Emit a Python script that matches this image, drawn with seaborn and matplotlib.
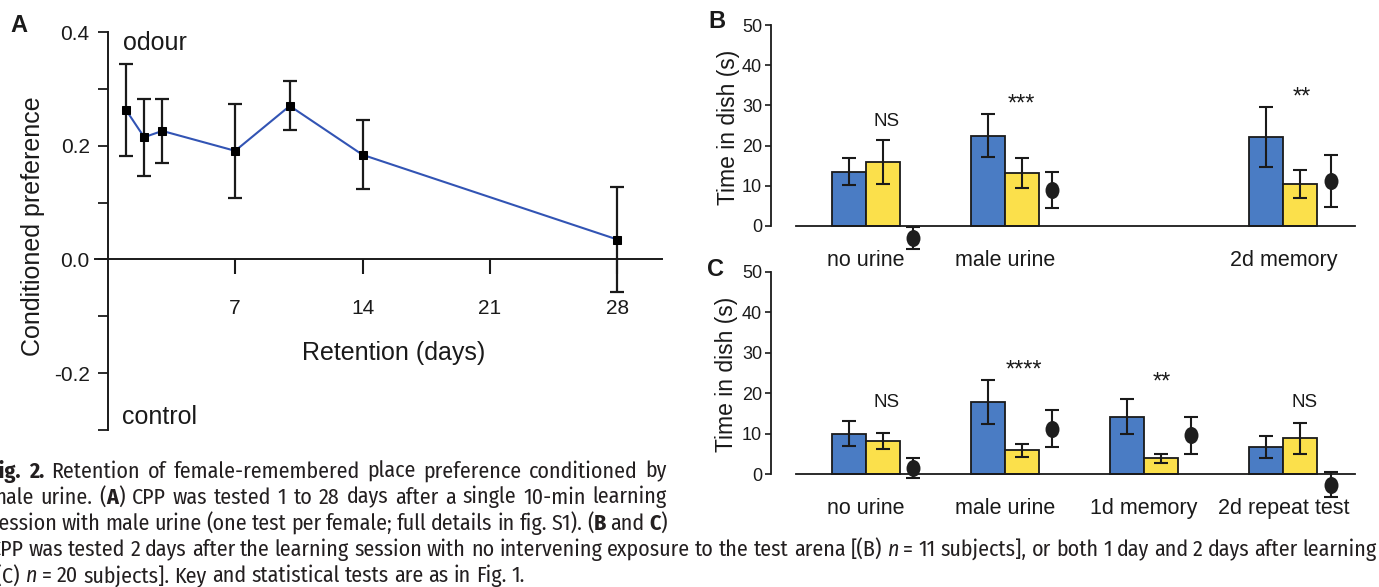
import re
import numpy as np
import pandas as pd
import matplotlib
matplotlib.use("Agg")
import matplotlib.pyplot as plt
import seaborn as sns
from matplotlib import font_manager
from matplotlib.path import Path
from matplotlib.transforms import Affine2D
from matplotlib.markers import MarkerStyle

# ---------------- data ----------------
# Panel A: retention curve
days = [1, 2, 3, 7, 10, 14, 28]
pref = [0.263, 0.215, 0.226, 0.191, 0.270, 0.184, 0.035]
pref_err = [0.081, 0.068, 0.056, 0.083, 0.043, 0.061, 0.093]
a_yticks = [-0.3, -0.2, -0.1, 0.0, 0.1, 0.2, 0.3, 0.4]
a_yticklabels = ["", "-0.2", "", "0.0", "", "0.2", "", "0.4"]
a_xticks = [7, 14, 21, 28]

# Panel B
b_groups = ["no urine", "male urine", "", "2d memory"]
b_blue = [13.5, 22.5, np.nan, 22.1]
b_blue_err = [3.4, 5.35, np.nan, 7.55]
b_yellow = [16.0, 13.1, np.nan, 10.4]
b_yellow_err = [5.45, 3.75, np.nan, 3.5]
b_dot = [-3.0, 8.9, np.nan, 11.2]
b_dot_err = [2.85, 4.55, np.nan, 6.45]
b_sig = ["NS", "***", "", "**"]

# Panel C
c_groups = ["no urine", "male urine", "1d memory", "2d repeat test"]
c_blue = [10.0, 17.9, 14.2, 6.7]
c_blue_err = [3.0, 5.45, 4.35, 2.75]
c_yellow = [8.1, 5.9, 3.9, 8.8]
c_yellow_err = [2.0, 1.6, 1.15, 3.8]
c_dot = [1.4, 11.2, 9.6, -2.6]
c_dot_err = [2.5, 4.6, 4.55, 3.0]
c_sig = ["NS", "****", "**", "NS"]

bc_yticks = [0, 10, 20, 30, 40, 50]

CAPTION = [
    ("**Fig.** **2.** Retention of female-remembered place preference conditioned by", True, 667),
    ("male urine. (**A**) CPP was tested 1 to 28 days after a single 10-min learning", True, 667),
    ("session with male urine (one test per female; full details in fig. S1). (**B** and **C**)", True, 667),
    ("CPP was tested 2 days after the learning session with no intervening exposure to the test arena "
     "[(B) _n_ = 11 subjects], or both 1 day and 2 days after learning", True, 1377),
    ("[(C) _n_ = 20 subjects]. Key and statistical tests are as in Fig. 1.", False, None),
]

# ---------------- layout / style ----------------
W, H = 1379, 587
BLUE = "#4a7cc4"
YELLOW = "#fbe04b"
LINE_BLUE = "#3254b4"
DOT = "#1e1e1e"
INK = "#1a1a1a"
CAP_INK = "#231f20"

sns.set_style("white")
plt.rcParams["font.family"] = ["Liberation Sans", "DejaVu Sans"]

names = {f.name for f in font_manager.fontManager.ttflist}


def first_available(cands, default):
    for c in cands:
        if c in names:
            return c
    return default


CAP_FAMILY = first_available(["Fira Sans Condensed", "Roboto Condensed", "Liberation Sans Narrow",
                              "PT Sans Narrow", "Archivo Narrow"], "Liberation Sans")
CAP_ITALIC_FAMILY = CAP_FAMILY
if CAP_FAMILY == "PT Sans Narrow":
    CAP_ITALIC_FAMILY = first_available(["PT Sans"], CAP_FAMILY)

fig = plt.figure(figsize=(W / 100, H / 100), dpi=100)
fig.patch.set_facecolor("white")


def fx(px):
    return px / W


def fy(py):
    return 1 - py / H


def add_ax(left, top, right, bottom):
    ax = fig.add_axes([fx(left), fy(bottom), fx(right) - fx(left), fy(top) - fy(bottom)])
    ax.patch.set_alpha(0)
    return ax


# ---------------- Panel A ----------------
axA = add_ax(95, 32, 662, 430)
axA.errorbar(days, pref, yerr=pref_err, fmt="none", ecolor=INK, elinewidth=1.6,
             capsize=5, capthick=1.6, zorder=2)
sns.lineplot(x=days, y=pref, ax=axA, color=LINE_BLUE, linewidth=1.5, marker="s",
             markersize=6, markerfacecolor="black", markeredgecolor="black", zorder=3)
axA.set_xlim(-0.7, 30.45)
axA.set_ylim(-0.3, 0.4)
for s in ["top", "right"]:
    axA.spines[s].set_visible(False)
axA.spines["left"].set_position(("data", 0))
axA.spines["bottom"].set_position(("data", 0))
for s in ["left", "bottom"]:
    axA.spines[s].set_linewidth(1.4)
    axA.spines[s].set_color(INK)
axA.set_yticks(a_yticks)
axA.set_yticklabels(a_yticklabels)
axA.set_xticks(a_xticks)
axA.set_xticklabels([str(v) for v in a_xticks])
axA.tick_params(axis="y", direction="out", length=7.5, width=1.3, pad=5.5, labelsize=15,
                colors=INK, left=True)
axA.tick_params(axis="x", direction="out", length=11, width=1.5, pad=17.5, labelsize=15,
                colors=INK, bottom=True)
axA.set_xlabel("")
axA.set_ylabel("")
axA.text(0.84, 0.381, "odour", fontsize=18, va="center", ha="left", color=INK)
axA.text(0.79, -0.277, "control", fontsize=18, va="center", ha="left", color=INK)
fig.text(fx(33), fy(226), "Conditioned preference", rotation=90, fontsize=18,
         ha="center", va="center", color=INK)
fig.text(fx(394), fy(353), "Retention (days)", fontsize=18, ha="center", va="center", color=INK)
fig.text(fx(10), fy(25), "A", fontsize=17, weight="bold", ha="left", va="center", color=INK)

# ---------------- Panels B and C ----------------
ell = MarkerStyle(Path.unit_circle().transformed(Affine2D().scale(0.82, 1.0)))
sig_dx = {"NS": 0.15, "***": 0.12, "****": 0.14, "**": 0.13}


def draw_panel(ax, groups, blue, blue_err, yellow, yellow_err, dot, dot_err, sig, sig_y, ylo):
    n = len(groups)
    pos = np.arange(n)
    df = pd.DataFrame({
        "group": list(groups) * 2,
        "cond": ["odour"] * n + ["control"] * n,
        "time": list(blue) + list(yellow),
    }).dropna()
    sns.barplot(data=df, x="group", y="time", hue="cond", order=list(groups),
                hue_order=["odour", "control"], palette=[BLUE, YELLOW], saturation=1,
                width=0.49, dodge=True, errorbar=None, edgecolor=INK, linewidth=1.3,
                legend=False, ax=ax, zorder=2)
    ek = dict(fmt="none", ecolor=INK, elinewidth=1.5, capsize=5, capthick=1.5, zorder=3)
    ax.errorbar(pos - 0.1225, blue, yerr=blue_err, **ek)
    ax.errorbar(pos + 0.1225, yellow, yerr=yellow_err, **ek)
    ax.errorbar(pos + 0.34, dot, yerr=dot_err, **ek)
    sns.scatterplot(x=pos + 0.34, y=dot, ax=ax, marker=ell, s=150, color=DOT,
                    edgecolor=DOT, linewidth=0, zorder=4)
    for i, (lab, yy) in enumerate(zip(sig, sig_y)):
        if lab:
            ax.text(i + sig_dx[lab], yy, lab, ha="center", va="baseline",
                    fontsize=17 if "*" in lab else 13.5, color=INK)
    ax.set_xlim(-0.68, 3.515)
    ax.set_ylim(ylo, 50)
    for s in ["top", "right"]:
        ax.spines[s].set_visible(False)
    ax.spines["bottom"].set_position(("data", 0))
    ax.spines["bottom"].set_bounds(-0.5, 3.515)
    ax.spines["left"].set_bounds(0, 50)
    for s in ["left", "bottom"]:
        ax.spines[s].set_linewidth(1.3)
        ax.spines[s].set_color(INK)
    ax.set_yticks(bc_yticks)
    ax.set_yticklabels([str(v) for v in bc_yticks])
    ax.set_xticks(pos)
    ax.set_xticklabels(groups)
    ax.tick_params(axis="y", direction="out", length=4, width=1.2, pad=2.5, labelsize=13,
                   colors=INK, left=True)
    ax.tick_params(axis="x", length=0, pad=17, labelsize=15.5, colors=INK)
    ax.set_xlabel("")
    ax.set_ylabel("")


axB = add_ax(771, 25, 1355, 270.2)
draw_panel(axB, b_groups, b_blue, b_blue_err, b_yellow, b_yellow_err, b_dot, b_dot_err,
           b_sig, [24.9, 28.6, 0, 30.5], -11)
axC = add_ax(771, 271.7, 1355, 522.6)
draw_panel(axC, c_groups, c_blue, c_blue_err, c_yellow, c_yellow_err, c_dot, c_dot_err,
           c_sig, [16.6, 24.0, 21.1, 16.6], -12)

fig.text(fx(728), fy(127), "Time in dish (s)", rotation=90, fontsize=16.5,
         ha="center", va="center", color=INK)
fig.text(fx(727), fy(374), "Time in dish (s)", rotation=90, fontsize=16.5,
         ha="center", va="center", color=INK)
fig.text(fx(708), fy(22), "B", fontsize=17, weight="bold", ha="left", va="center", color=INK)
fig.text(fx(707), fy(270), "C", fontsize=17, weight="bold", ha="left", va="center", color=INK)

# ---------------- caption ----------------
cap_baselines = [477.7, 503.5, 529.8, 556.0, 582.3]
cap_x0 = -10.5
cap_fs = 15.0


def parse_word(w):
    runs = []
    for m in re.finditer(r"\*\*(.+?)\*\*|_(.+?)_|([^*_]+)", w):
        if m.group(1):
            runs.append((m.group(1), "bold"))
        elif m.group(2):
            runs.append((m.group(2), "italic"))
        else:
            runs.append((m.group(3), "normal"))
    return runs


renderer = fig.canvas.get_renderer()
lines = []
for text, just, target in CAPTION:
    words = []
    for w in text.split(" "):
        runs = []
        for txt, st in parse_word(w):
            kw = {"family": CAP_FAMILY, "weight": "normal", "style": "normal"}
            if st == "bold":
                kw["weight"] = "bold"
            if st == "italic":
                kw["style"] = "italic"
                kw["family"] = CAP_ITALIC_FAMILY
            t = fig.text(0, 0, txt, fontsize=cap_fs, ha="left",
                         va="baseline", color=CAP_INK, **kw)
            runs.append(t)
        words.append(runs)
    lines.append((words, just, target))


def measure_all(fs):
    ref1 = fig.text(0, 0, "a a", fontsize=fs, family=CAP_FAMILY)
    ref2 = fig.text(0, 0, "aa", fontsize=fs, family=CAP_FAMILY)
    sp = ref1.get_window_extent(renderer).width - ref2.get_window_extent(renderer).width
    ref1.remove()
    ref2.remove()
    out = []
    for words, just, target in lines:
        ww = [[t.get_window_extent(renderer).width for t in runs] for runs in words]
        out.append(ww)
    return sp, out


# size the caption so the long full-width line fits its natural width
sp, widths = measure_all(cap_fs)
ww4 = widths[3]
nat4 = sum(sum(w) for w in ww4) + (len(ww4) - 1) * sp
scale = (lines[3][2] - cap_x0) / nat4
scale = max(0.8, min(1.12, scale))
cap_fs *= scale
for words, _, _ in lines:
    for runs in words:
        for t in runs:
            t.set_fontsize(cap_fs)
sp, widths = measure_all(cap_fs)

for (words, just, target), ww, base in zip(lines, widths, cap_baselines):
    total = sum(sum(w) for w in ww)
    if just and len(ww) > 1:
        gap = (target - cap_x0 - total) / (len(ww) - 1)
    else:
        gap = sp
    x = cap_x0
    for runs, rw in zip(words, ww):
        for t, w in zip(runs, rw):
            t.set_position((fx(x), fy(base)))
            x += w
        x += gap

fig.savefig("out.png", dpi=100, facecolor="white")
